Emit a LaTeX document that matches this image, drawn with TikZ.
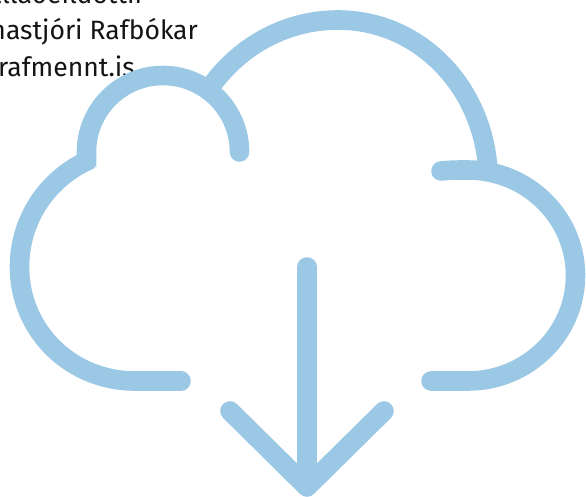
\documentclass[tikz,border=0pt]{standalone}
\usepackage{fontspec}
\setmainfont{Fira Sans}
\definecolor{cloudblue}{HTML}{9BC8E4}
\tikzset{cloudline/.style={draw=cloudblue,line width=19.6pt,line cap=round,line join=round},
 caption/.style={anchor=base west,inner sep=0pt,text=black!92,font=\fontsize{26.5pt}{30pt}\selectfont}}
\begin{document}
\begin{tikzpicture}[x=1pt,y=-1pt]
\useasboundingbox (0,0) rectangle (586,497);
\begin{scope}
\clip (0,0) rectangle (586,497);
\node[caption,anchor=base east] (t1) at (145,4) {Hallaðeildóttir};
\node[caption,anchor=base east] (t2) at (198,40) {Verkefnastjóri Rafbókar};
\node[caption,anchor=base east] (t3) at (135,76.5) {rafmennt.is};
\draw[cloudline,line cap=butt] (207,92) .. controls (236,48) and (284,20) .. (338,20) .. controls (420,20) and (484,88) .. (488,172);
\draw[cloudline] (239.5,152) arc[start angle=0,end angle=-180,radius=76.5];
\fill[cloudblue] (76.7,152) -- (96.3,152) -- (96.3,167) -- (76.7,155) -- cycle;
\draw[cloudline,line cap=butt] (91,159) .. controls (47,178) and (19.5,220) .. (19.5,267) .. controls (19.5,330) and (70,381) .. (135,381);
\draw[cloudline] (135,381) -- (181,381);
\draw[cloudline] (441,171) .. controls (450,170) and (458,170) .. (468,170) .. controls (527,170) and (575.5,217) .. (575.5,275.5) .. controls (575.5,334) and (527,381) .. (468,381) -- (431,381);
\draw[cloudline] (307,267) -- (307,486);
\draw[cloudline] (230,411) -- (307,487) -- (384,411);
\end{scope}
\end{tikzpicture}
\end{document}
